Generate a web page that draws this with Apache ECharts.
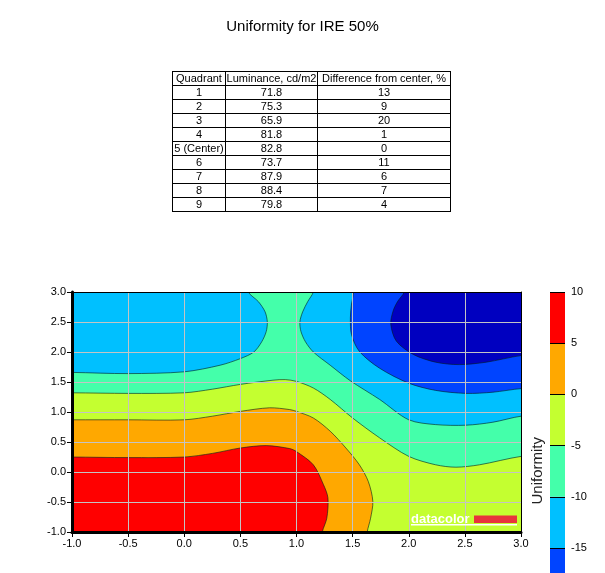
<!DOCTYPE html>
<html><head><meta charset="utf-8">
<script src="https://cdn.jsdelivr.net/npm/echarts@6/dist/echarts.min.js"></script>
<style>
html,body{margin:0;padding:0;background:#fff;}
#chart{position:absolute;left:0;top:0;width:605px;height:573px;}
#tbl{position:absolute;left:172px;top:71px;border-collapse:collapse;table-layout:fixed;width:278px;font-family:'Liberation Sans',Arial,sans-serif;font-size:11px;color:#000;}
#tbl td{border:1px solid #000;padding:0;height:13px;line-height:13px;text-align:center;white-space:nowrap;overflow:hidden;}
</style></head><body>
<div id="chart"></div>
<table id="tbl"></table>
<script>
// ---- table data ----
const tableHeaders = ['Quadrant', 'Luminance, cd/m2', 'Difference from center, %'];
const quadrants = ['1', '2', '3', '4', '5 (Center)', '6', '7', '8', '9'];
const luminance = [71.8, 75.3, 65.9, 81.8, 82.8, 73.7, 87.9, 88.4, 79.8];
const difference = [13, 9, 20, 1, 0, 11, 6, 7, 4];

// ---- axis ticks ----
const xRange = [-1, 3];
const yRange = [-1, 3];
const tickStep = 0.5;

// ---- contour boundaries [x, y] ----
const contourRedOrange = [[-1,0.25],[-0.5,0.24],[0,0.25],[0.25,0.31],[0.5,0.40],[0.73,0.44],[0.94,0.39],[1.0,0.34],[1.15,0.12],[1.24,-0.21],[1.28,-0.43],[1.27,-0.77],[1.23,-1.0]];
const contourOrangeYellow = [[-1,0.87],[-0.5,0.87],[0,0.87],[0.25,0.93],[0.5,1.01],[0.76,1.07],[0.94,1.04],[1.0,1.01],[1.15,0.9],[1.3,0.68],[1.44,0.4],[1.56,0.12],[1.64,-0.16],[1.68,-0.49],[1.66,-0.77],[1.63,-1.0]];
const contourYellowAqua = [[-1,1.32],[-0.5,1.31],[0,1.32],[0.25,1.38],[0.5,1.46],[0.79,1.53],[0.9,1.54],[1.0,1.51],[1.15,1.4],[1.3,1.21],[1.5,0.9],[1.74,0.57],[2.0,0.26],[2.24,0.12],[2.42,0.08],[2.63,0.12],[3.0,0.26]];
const contourAquaBlueLeft = [[-1,1.66],[-0.5,1.64],[0,1.67],[0.32,1.78],[0.5,1.89],[0.62,2.0],[0.69,2.17],[0.73,2.34],[0.74,2.5],[0.72,2.67],[0.66,2.84],[0.57,3.0]];
const contourAquaBlueRight = [[1.15,3.0],[1.10,2.84],[1.055,2.67],[1.03,2.5],[1.04,2.34],[1.08,2.17],[1.15,2.0],[1.3,1.78],[1.48,1.52],[1.74,1.21],[2.0,0.87],[2.24,0.79],[2.51,0.78],[2.75,0.83],[3.0,0.93]];
const contourBlue = [[1.51,3.0],[1.49,2.8],[1.48,2.57],[1.49,2.29],[1.56,2.01],[1.74,1.73],[2.0,1.48],[2.24,1.36],[2.51,1.31],[2.75,1.33],[3.0,1.39]];
const contourDarkBlue = [[1.96,3.0],[1.90,2.84],[1.86,2.68],[1.84,2.46],[1.89,2.18],[2.04,1.96],[2.24,1.83],[2.45,1.79],[2.69,1.83],[3.0,1.94]];

// ---- colour bar levels ----
const colorbarLevels = [10, 5, 0, -5, -10, -15, -20];

// ---- palette (styles) ----
const PAL = {
  red: '#FF0000', orange: '#FFA800', lime: '#C4FF30', aqua: '#44FFAA',
  sky: '#00C0FF', blue: '#0044FF', navy: '#0000C0'
};
const colorbarColors = [PAL.red, PAL.orange, PAL.lime, PAL.aqua, PAL.sky, PAL.blue];

// fill layers, painted in order
const fillLayers = [
  { curve: null, color: PAL.lime, close: 'all' },
  { curve: contourYellowAqua, color: PAL.aqua, close: 'top' },
  { curve: contourAquaBlueLeft, color: PAL.sky, close: 'topLeft' },
  { curve: contourAquaBlueRight, color: PAL.sky, close: 'topRight' },
  { curve: contourBlue, color: PAL.blue, close: 'topRight' },
  { curve: contourDarkBlue, color: PAL.navy, close: 'topRight' },
  { curve: contourOrangeYellow, color: PAL.orange, close: 'bottomLeft' },
  { curve: contourRedOrange, color: PAL.red, close: 'bottomLeft' }
];
const lineCurves = [contourRedOrange, contourOrangeYellow, contourYellowAqua, contourAquaBlueLeft, contourAquaBlueRight, contourBlue, contourDarkBlue];

// ---- table ----
(function () {
  let h = '<colgroup><col style="width:53px"><col style="width:92px"><col style="width:133px"></colgroup>';
  h += '<tr>' + tableHeaders.map(t => '<td>' + t + '</td>').join('') + '</tr>';
  quadrants.forEach((q, i) => {
    h += '<tr><td>' + q + '</td><td>' + luminance[i].toFixed(1) + '</td><td>' + difference[i] + '</td></tr>';
  });
  document.getElementById('tbl').innerHTML = h;
})();

// ---- geometry helpers (rendering only) ----
const EXT = 0.15, FAR = 0.6;
function extendEnd(p) {
  if (p[0] <= xRange[0]) return [p[0] - EXT, p[1]];
  if (p[0] >= xRange[1]) return [p[0] + EXT, p[1]];
  if (p[1] >= yRange[1]) return [p[0], p[1] + EXT];
  if (p[1] <= yRange[0]) return [p[0], p[1] - EXT];
  return p;
}
function fullCurve(c) { return [extendEnd(c[0])].concat(c, [extendEnd(c[c.length - 1])]); }
function closing(kind) {
  const L = xRange[0] - FAR, R = xRange[1] + FAR, B = yRange[0] - FAR, T = yRange[1] + FAR;
  switch (kind) {
    case 'top': return [[R, T], [L, T]];
    case 'topLeft': return [[L, T]];
    case 'topRight': return [[R, T]];
    case 'bottomLeft': return [[L, B]];
  }
  return [];
}
function clipOf(params) {
  const cs = params.coordSys;
  return { type: 'rect', shape: { x: cs.x, y: cs.y, width: cs.width, height: cs.height } };
}
const SMOOTH = 0.3;

const chart = echarts.init(document.getElementById('chart'), null, { renderer: 'canvas' });
const FONT = "'Liberation Sans', Arial, sans-serif";
const fmt = v => v.toFixed(1);

chart.setOption({
  animation: false,
  backgroundColor: '#fff',
  title: {
    text: 'Uniformity for IRE 50%', left: 'center', top: 14,
    textStyle: { fontSize: 15, fontWeight: 'normal', color: '#000', fontFamily: FONT }
  },
  grid: [
    { left: 72, top: 292, width: 449, height: 240, outerBoundsMode: 'none', containLabel: false },
    { left: 550, top: 292, width: 15, height: 307.2, outerBoundsMode: 'none', containLabel: false }
  ],
  xAxis: [
    { type: 'value', gridIndex: 0, min: xRange[0], max: xRange[1], interval: tickStep, position: 'bottom', z: 5,
      axisLine: { show: true, onZero: false, lineStyle: { color: '#000', width: 3 } },
      axisTick: { show: true, length: 5, lineStyle: { color: '#000', width: 1 } },
      axisLabel: { formatter: fmt, color: '#000', fontSize: 11, fontFamily: FONT, margin: 6 },
      splitLine: { show: true, lineStyle: { color: '#C4C4C4', width: 1 } } },
    { type: 'value', gridIndex: 0, min: xRange[0], max: xRange[1], position: 'top', z: 5,
      axisLine: { show: true, onZero: false, lineStyle: { color: '#000', width: 1 } },
      axisTick: { show: false }, axisLabel: { show: false }, splitLine: { show: false } },
    { type: 'value', gridIndex: 1, min: 0, max: 1, show: false }
  ],
  yAxis: [
    { type: 'value', gridIndex: 0, min: yRange[0], max: yRange[1], interval: tickStep, position: 'left', z: 5,
      axisLine: { show: true, onZero: false, lineStyle: { color: '#000', width: 3 } },
      axisTick: { show: true, length: 5, lineStyle: { color: '#000', width: 1 } },
      axisLabel: { formatter: fmt, color: '#000', fontSize: 11, fontFamily: FONT, margin: 6 },
      splitLine: { show: true, lineStyle: { color: '#C4C4C4', width: 1 } } },
    { type: 'value', gridIndex: 0, min: yRange[0], max: yRange[1], position: 'right', z: 5,
      axisLine: { show: true, onZero: false, lineStyle: { color: '#000', width: 1 } },
      axisTick: { show: false }, axisLabel: { show: false }, splitLine: { show: false } },
    { type: 'value', gridIndex: 1, min: colorbarLevels[colorbarLevels.length - 1], max: colorbarLevels[0], interval: 5,
      position: 'right', z: 5,
      axisLine: { show: false }, axisTick: { show: false },
      axisLabel: { color: '#000', fontSize: 11, fontFamily: FONT, margin: 6 },
      splitLine: { show: true, lineStyle: { color: '#000', width: 1 } } }
  ],
  graphic: [
    { type: 'text', left: 530, top: 437, rotation: Math.PI / 2,
      style: { text: 'Uniformity', fill: '#222', font: '15px ' + FONT } },
    { type: 'text', z: 100, x: 411, y: 519, style: { text: 'datacolor', fill: '#fff', font: 'bold 13px ' + FONT, verticalAlign: 'middle', align: 'left' } },
    { type: 'rect', z: 100, shape: { x: 474, y: 515.5, width: 43, height: 7.5 }, style: { fill: '#E8343C' } },
    { type: 'rect', z: 100, shape: { x: 411, y: 524, width: 106, height: 1.5 }, style: { fill: '#fff' } }
  ],
  series: [
    {
      type: 'custom', xAxisIndex: 0, yAxisIndex: 0, z: 1, silent: true,
      data: fillLayers.map((l, i) => [0, 0, i]),
      renderItem: function (params, api) {
        const layer = fillLayers[params.dataIndex];
        let pts;
        if (!layer.curve) {
          pts = [[xRange[0] - FAR, yRange[0] - FAR], [xRange[1] + FAR, yRange[0] - FAR], [xRange[1] + FAR, yRange[1] + FAR], [xRange[0] - FAR, yRange[1] + FAR]];
          return { type: 'polygon', clipPath: clipOf(params), shape: { points: pts.map(p => api.coord(p)) }, style: { fill: layer.color } };
        }
        pts = fullCurve(layer.curve).concat(closing(layer.close));
        return { type: 'polygon', clipPath: clipOf(params),
          shape: { points: pts.map(p => api.coord(p)), smooth: SMOOTH },
          style: { fill: layer.color } };
      }
    },
    {
      type: 'custom', xAxisIndex: 0, yAxisIndex: 0, z: 2, silent: true,
      data: lineCurves.map((c, i) => [0, 0, i]),
      renderItem: function (params, api) {
        const pts = fullCurve(lineCurves[params.dataIndex]);
        return { type: 'polyline', clipPath: clipOf(params),
          shape: { points: pts.map(p => api.coord(p)), smooth: SMOOTH },
          style: { stroke: 'rgba(0,30,30,0.6)', lineWidth: 1, fill: null } };
      }
    },
    {
      type: 'custom', xAxisIndex: 2, yAxisIndex: 2, z: 1, silent: true,
      data: colorbarColors.map((c, i) => [0, 0, i]),
      renderItem: function (params, api) {
        const i = params.dataIndex;
        const p0 = api.coord([0, colorbarLevels[i]]);
        const p1 = api.coord([1, colorbarLevels[i + 1]]);
        return { type: 'rect', shape: { x: p0[0], y: p0[1], width: p1[0] - p0[0], height: p1[1] - p0[1] },
          style: { fill: colorbarColors[i] } };
      }
    }
  ]
});
</script>
</body></html>
